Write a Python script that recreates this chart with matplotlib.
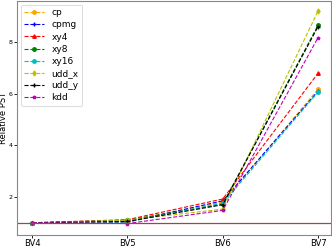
import matplotlib
matplotlib.use("Agg")
import matplotlib.pyplot as plt

benchmarks = ["BV4", "BV5", "BV6", "BV7"]

cp = [1.0, 1.08, 1.80, 6.17]
cpmg = [1.0, 1.03, 1.85, 6.10]
xy4 = [1.0, 1.12, 1.92, 6.79]
xy8 = [1.0, 1.10, 1.72, 8.65]
xy16 = [0.99, 1.03, 1.76, 6.06]
udd_x = [0.98, 1.10, 1.53, 9.20]
udd_y = [1.0, 1.05, 1.70, 8.60]
kdd = [1.0, 0.97, 1.48, 8.17]

series = [
    ("cp", cp, "orange", "o"),
    ("cpmg", cpmg, "b", "+"),
    ("xy4", xy4, "r", "^"),
    ("xy8", xy8, "g", "o"),
    ("xy16", xy16, "c", "o"),
    ("udd_x", udd_x, "y", "d"),
    ("udd_y", udd_y, "k", "+"),
    ("kdd", kdd, "m", "*"),
]

fig = plt.figure(figsize=(3.32, 2.47), dpi=100)
ax = fig.add_axes([0.052, 0.049, 0.945, 0.947])

x = range(len(benchmarks))
for name, vals, col, mk in series:
    ax.plot(x, vals, linestyle="--", color=col, marker=mk,
            markersize=2.5, linewidth=0.8, label=name)

ax.axhline(1.0, color="#9a4a3a", linewidth=0.9)

ax.set_xticks(list(x))
ax.set_xticklabels(benchmarks, fontsize=6)
ax.set_yticks([2, 4, 6, 8])
ax.tick_params(axis="y", labelsize=4.5, length=2, pad=1.2, width=0.6)
ax.tick_params(axis="x", length=2, pad=1, width=0.6)
ax.set_ylim(0.53, 9.59)
ax.set_xlim(-0.157, 3.136)
ax.set_ylabel("Relative PST", fontsize=6)
ax.yaxis.set_label_coords(-0.028, 0.5)

for s in ax.spines.values():
    s.set_color("#888888")
    s.set_linewidth(0.8)

leg = ax.legend(loc="upper left", fontsize=6.5, handlelength=2.2,
                labelspacing=0.35, borderpad=0.4, framealpha=0.8,
                borderaxespad=0.4)
leg.get_frame().set_linewidth(0.6)

fig.savefig("out.png", dpi=100)
